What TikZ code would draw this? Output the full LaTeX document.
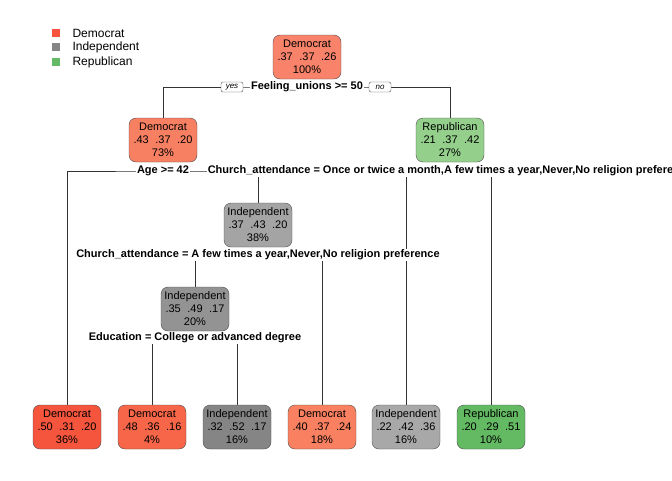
\documentclass[tikz,border=0pt]{standalone}
\usepackage{fontspec}
\setmainfont{Liberation Sans}
\usetikzlibrary{backgrounds}
\definecolor{demA}{HTML}{F8836A}
\definecolor{demB}{HTML}{F88062}
\definecolor{demC}{HTML}{F5553C}
\definecolor{demD}{HTML}{F76648}
\definecolor{demE}{HTML}{F98060}
\definecolor{indA}{HTML}{A4A4A4}
\definecolor{indB}{HTML}{939393}
\definecolor{indC}{HTML}{858585}
\definecolor{indD}{HTML}{A8A8A8}
\definecolor{repA}{HTML}{94D08C}
\definecolor{repB}{HTML}{63BA63}
\newcommand{\probs}[3]{#1\hspace{6.5pt}#2\hspace{6.5pt}#3}

\begin{document}
\begin{tikzpicture}[x=1pt,y=-1pt,
    treebox/.style={draw=black!70, rounded corners=7pt, align=center, inner sep=1pt,
        minimum width=68pt, minimum height=44pt, font=\fontsize{11}{13}\selectfont},
    splitlab/.style={fill=white, inner sep=1pt, font=\fontsize{11}{13}\selectfont\bfseries},
    yesno/.style={draw=black!70, fill=white, rounded corners=2pt, inner sep=1pt,
        minimum width=22pt, minimum height=10pt, font=\fontsize{8}{9}\selectfont\itshape},
    legsq/.style={minimum size=8pt, inner sep=0pt}]
    \useasboundingbox (0,0) rectangle (672,480);

    % legend
    \node[legsq, fill=demC] (legdem) at (56,33) {};
    \node[legsq, fill=indC] (legind) at (56,47) {};
    \node[legsq, fill=repB] (legrep) at (56,62) {};
    \node[anchor=west, font=\fontsize{12}{14}\selectfont] at (69,33) {Democrat};
    \node[anchor=west, font=\fontsize{12}{14}\selectfont] at (69,47) {Independent};
    \node[anchor=west, font=\fontsize{12}{14}\selectfont] at (69,62) {Republican};

    % inner nodes
    \node[treebox, fill=demA] (root) at (307,57) {Democrat\\\probs{.37}{.37}{.26}\\100\%};
    \node[treebox, fill=demB] (demtop) at (163,140) {Democrat\\\probs{.43}{.37}{.20}\\73\%};
    \node[treebox, fill=repA] (reptop) at (450,140) {Republican\\\probs{.21}{.37}{.42}\\27\%};
    \node[treebox, fill=indA] (indmid) at (258,225) {Independent\\\probs{.37}{.43}{.20}\\38\%};
    \node[treebox, fill=indB] (indlow) at (195,309) {Independent\\\probs{.35}{.49}{.17}\\20\%};

    % leaves
    \node[treebox, fill=demC] (leafa) at (67,427) {Democrat\\\probs{.50}{.31}{.20}\\36\%};
    \node[treebox, fill=demD] (leafb) at (152,427) {Democrat\\\probs{.48}{.36}{.16}\\4\%};
    \node[treebox, fill=indC] (leafc) at (237,427) {Independent\\\probs{.32}{.52}{.17}\\16\%};
    \node[treebox, fill=demE] (leafd) at (322,427) {Democrat\\\probs{.40}{.37}{.24}\\18\%};
    \node[treebox, fill=indD] (leafe) at (406,427) {Independent\\\probs{.22}{.42}{.36}\\16\%};
    \node[treebox, fill=repB] (leaff) at (491,427) {Republican\\\probs{.20}{.29}{.51}\\10\%};

    % split labels
    \node[splitlab] (splunion) at (307,87) {Feeling\_unions >= 50};
    \node[yesno] (yes) at (232,87) {yes};
    \node[yesno] (no) at (380,87) {no};
    \node[splitlab] (splage) at (163,171) {Age >= 42};
    \node[splitlab] (splchurcha) at (450,171) {Church\_attendance = Once or twice a month,A few times a year,Never,No religion preference};
    \node[splitlab] (splchurchb) at (258,255) {Church\_attendance = A few times a year,Never,No religion preference};
    \node[splitlab] (spledu) at (195,338) {Education = College or advanced degree};

    % branches
    \begin{scope}[on background layer]
        \draw[black!80] (demtop.north) |- (splunion.center) -| (reptop.north);
        \draw[black!80] (leafa.north) |- (splage.center) -| (indmid.north);
        \draw[black!80] (leafe.north) |- (splchurcha.center) -| (leaff.north);
        \draw[black!80] (indlow.north) |- (splchurchb.center) -| (leafd.north);
        \draw[black!80] (leafb.north) |- (spledu.center) -| (leafc.north);
    \end{scope}
\end{tikzpicture}
\end{document}
